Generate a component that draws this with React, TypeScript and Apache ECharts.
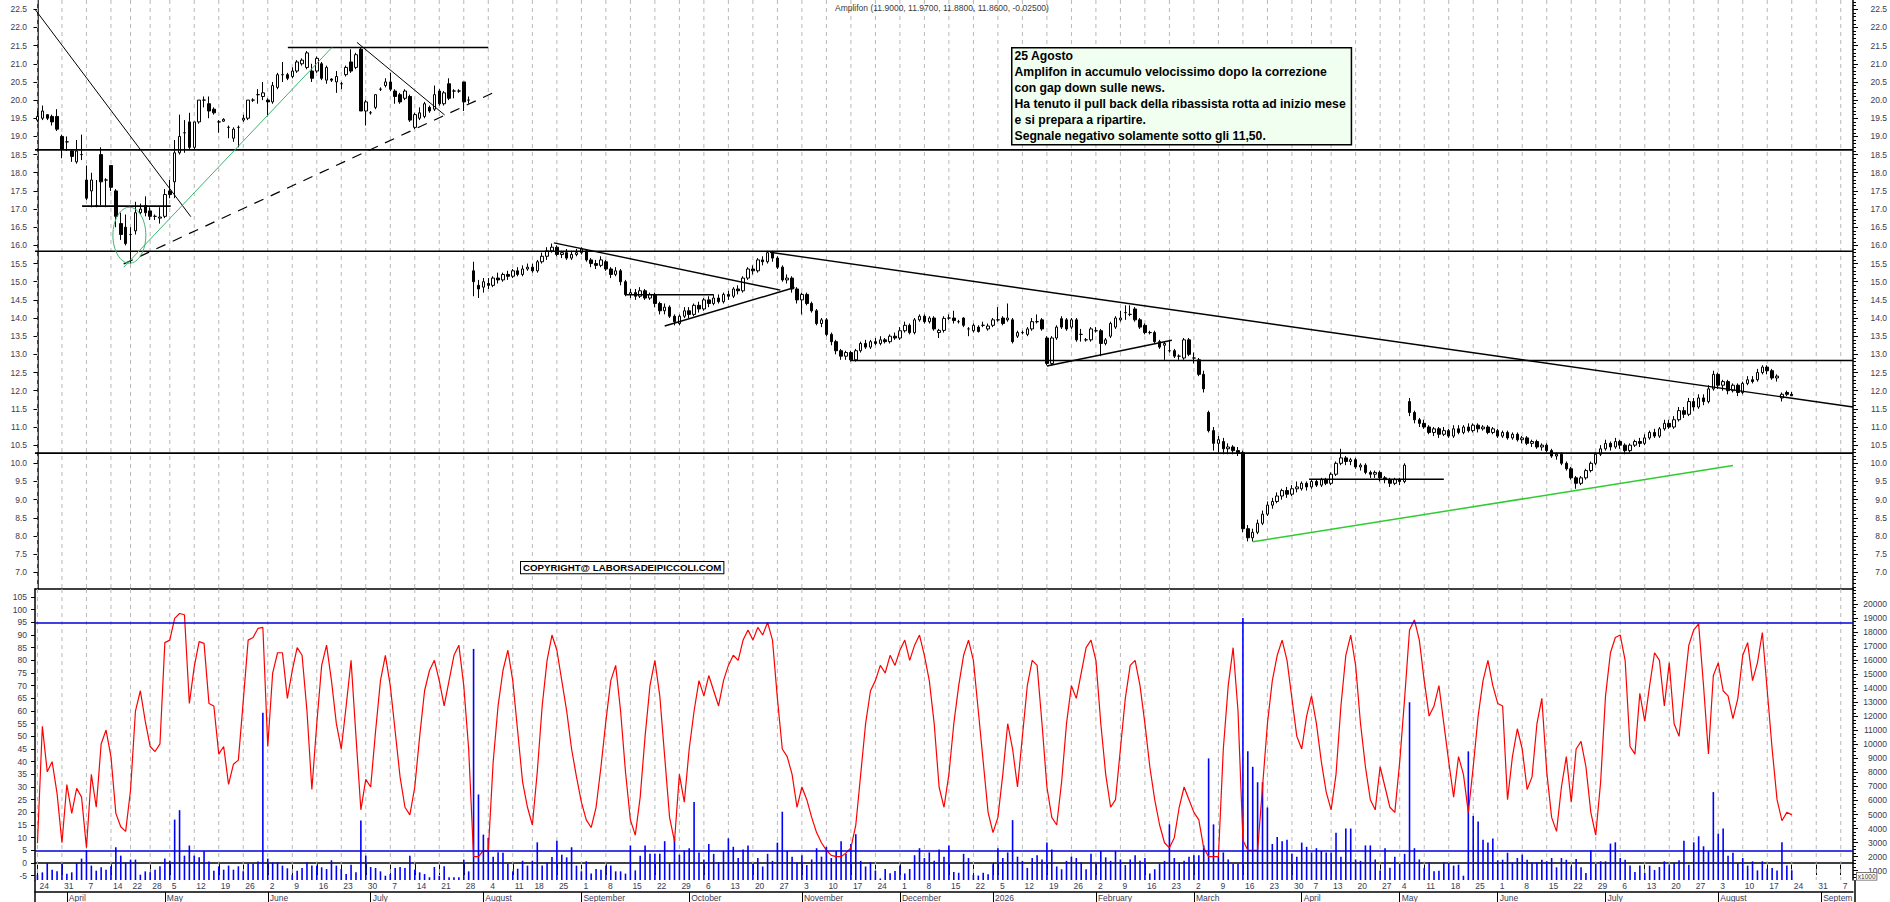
import React, { useEffect, useRef } from "react";
import * as echarts from "echarts";

const FONT = "'Liberation Sans', Arial, Helvetica, sans-serif";
const LABEL_COLOR = "#3a3a56";

// Borsa holidays (no bar on these days)
const HOLIDAYS = [
  "2025-04-18", "2025-04-21", "2025-05-01", "2025-08-15", "2025-12-24", "2025-12-25",
  "2025-12-26", "2025-12-31", "2026-01-01", "2026-04-03", "2026-04-06", "2026-05-01",
];
const SLOT_COUNT = 371; // 2025-03-24 .. 2026-09-09
const MONTHS = ["January", "February", "March", "April", "May", "June", "July", "August", "September", "October", "November", "December"];

const TITLE = "Amplifon (11.9000, 11.9700, 11.8800, 11.8600, -0.02500)";
const NOTE_LINES = [
  "25 Agosto",
  "Amplifon in accumulo velocissimo dopo la correzione",
  "con gap down sulle news.",
  "Ha tenuto il pull back della ribassista rotta ad inizio mese",
  "e si prepara a ripartire.",
  "Segnale negativo solamente sotto gli 11,50.",
];
const COPYRIGHT = "COPYRIGHT@ LABORSADEIPICCOLI.COM";

// tick labels
const priceTicks = [7.0, 7.5, 8.0, 8.5, 9.0, 9.5, 10.0, 10.5, 11.0, 11.5, 12.0, 12.5, 13.0, 13.5, 14.0, 14.5, 15.0, 15.5, 16.0, 16.5, 17.0, 17.5, 18.0, 18.5, 19.0, 19.5, 20.0, 20.5, 21.0, 21.5, 22.0, 22.5];
const oscTicks = [-5, 0, 5, 10, 15, 20, 25, 30, 35, 40, 45, 50, 55, 60, 65, 70, 75, 80, 85, 90, 95, 100, 105];
const volTicks = [1000, 2000, 3000, 4000, 5000, 6000, 7000, 8000, 9000, 10000, 11000, 12000, 13000, 14000, 15000, 16000, 17000, 18000, 19000, 20000];

// daily candles [open, close, low, high]
const ohlc: number[][] = [
  [19.45,19.55,19.40,19.70],[19.50,19.70,19.45,19.85],[19.60,19.50,19.45,19.60],[19.55,19.40,19.30,19.60],[19.55,19.20,19.15,19.75],
  [19.00,18.65,18.40,19.05],[18.85,18.85,18.60,19.00],[18.60,18.45,18.30,18.65],[18.30,18.60,18.25,18.90],[18.50,18.50,18.35,19.05],
  [17.80,17.30,17.25,18.20],[17.50,17.80,17.05,18.00],[17.10,17.10,17.05,17.80],[18.50,17.75,17.10,18.70],[17.80,17.80,17.05,17.85],
  [18.20,17.60,17.50,18.20],[17.50,16.80,16.50,17.55],[16.60,16.30,16.15,16.90],[16.50,16.05,16.00,16.85],[16.30,16.30,15.50,16.50],
  [16.40,16.90,16.30,17.20],[16.90,17.00,16.85,17.15],[17.10,16.90,16.80,17.35],[16.95,16.80,16.70,17.05],[16.80,16.80,16.70,16.85],
  [16.75,16.78,16.60,17.05],[16.80,17.40,16.75,17.55],[17.50,17.40,17.30,17.80],[17.75,18.55,17.30,18.90],[18.55,19.00,18.50,19.60],
  [19.10,19.10,18.55,19.45],[19.40,18.70,18.65,19.65],[18.70,19.40,18.65,19.40],[19.40,20.00,19.35,20.00],[20.00,20.00,19.80,20.10],
  [19.90,19.70,19.50,20.10],[19.75,19.65,19.60,19.80],[19.40,19.40,19.10,19.45],[19.42,19.47,19.40,19.50],[19.25,19.25,18.95,19.30],
  [18.95,19.20,18.85,19.25],[19.25,19.25,18.70,19.30],[19.45,19.50,19.40,19.60],[19.50,20.00,19.45,20.00],[20.00,20.00,19.95,20.05],
  [20.15,20.15,19.90,20.30],[20.10,20.20,20.00,20.50],[20.00,19.95,19.55,20.05],[19.95,20.40,19.90,20.50],[20.35,20.70,20.30,20.75],
  [20.70,20.70,20.50,21.05],[20.70,20.60,20.55,20.75],[20.65,20.80,20.60,20.90],[20.80,21.05,20.75,21.10],[21.00,21.10,20.95,21.15],
  [20.90,21.30,20.85,21.35],[20.80,20.60,20.50,21.00],[20.80,21.15,20.75,21.20],[21.00,20.60,20.55,21.05],[20.55,20.90,20.45,20.95],
  [20.58,20.55,20.50,20.60],[20.50,20.65,20.20,20.80],[20.45,20.45,20.30,20.50],[20.70,20.90,20.65,20.95],[21.05,20.80,20.75,21.40],
  [20.90,21.25,20.85,21.30],[21.40,19.70,19.70,21.45],[19.70,19.95,19.30,20.00],[19.65,19.65,19.60,19.70],[19.80,20.15,19.75,20.15],
  [20.30,20.30,20.25,20.35],[20.40,20.50,20.35,20.60],[20.50,20.30,20.25,20.75],[20.25,20.10,19.90,20.30],[20.15,19.95,19.90,20.20],
  [20.05,20.25,20.00,20.30],[20.10,19.45,19.40,20.15],[19.25,19.60,19.20,19.65],[19.50,19.65,19.45,19.80],[19.55,19.90,19.50,19.95],
  [19.80,19.70,19.65,19.85],[19.75,20.15,19.70,20.40],[20.25,19.90,19.85,20.30],[19.90,20.20,19.85,20.25],[20.45,20.05,20.00,20.60],
  [20.25,20.25,20.05,20.30],[20.25,20.25,20.20,20.30],[20.50,19.95,19.70,20.50],[20.00,20.00,19.90,20.10],[15.30,15.00,14.60,15.55],
  [14.90,14.80,14.55,15.05],[14.85,15.00,14.70,15.10],[14.95,14.90,14.80,15.10],[14.90,15.10,14.85,15.15],[15.10,15.05,14.95,15.25],
  [15.05,15.20,15.00,15.25],[15.20,15.15,15.05,15.30],[15.15,15.30,15.10,15.35],[15.30,15.20,15.15,15.40],[15.20,15.35,15.15,15.45],
  [15.35,15.40,15.30,15.50],[15.40,15.30,15.25,15.50],[15.30,15.55,15.25,15.60],[15.55,15.70,15.50,15.80],[15.70,15.85,15.60,15.95],
  [15.85,15.95,15.80,16.05],[15.95,15.75,15.70,16.00],[15.75,15.80,15.65,15.85],[15.80,15.65,15.60,15.90],[15.65,15.75,15.60,15.85],
  [15.75,15.80,15.70,15.90],[15.80,15.90,15.75,15.95],[15.85,15.60,15.55,15.90],[15.60,15.50,15.40,15.65],[15.50,15.45,15.35,15.60],
  [15.45,15.60,15.40,15.70],[15.55,15.35,15.30,15.60],[15.35,15.20,15.10,15.40],[15.20,15.30,15.15,15.40],[15.30,15.00,14.90,15.35],
  [15.00,14.65,14.60,15.05],[14.65,14.70,14.55,14.80],[14.70,14.60,14.50,14.80],[14.60,14.75,14.55,14.85],[14.75,14.55,14.50,14.80],
  [14.55,14.65,14.50,14.70],[14.65,14.40,14.30,14.70],[14.40,14.20,14.10,14.45],[14.20,14.30,14.10,14.40],[14.30,14.05,14.00,14.35],
  [14.05,13.90,13.80,14.10],[13.85,14.05,13.80,14.10],[14.05,14.20,14.00,14.30],[14.20,14.10,14.00,14.30],[14.10,14.35,14.05,14.40],
  [14.35,14.25,14.15,14.45],[14.25,14.50,14.20,14.55],[14.50,14.40,14.30,14.60],[14.40,14.55,14.35,14.65],[14.55,14.45,14.40,14.65],
  [14.45,14.65,14.40,14.70],[14.65,14.60,14.50,14.75],[14.60,14.80,14.55,14.85],[14.80,14.75,14.65,14.90],[14.75,15.10,14.70,15.15],
  [15.10,15.35,15.05,15.40],[15.35,15.30,15.20,15.45],[15.30,15.60,15.25,15.65],[15.60,15.55,15.45,15.70],[15.55,15.80,15.50,15.85],
  [15.80,15.65,15.55,15.85],[15.65,15.40,15.35,15.70],[15.40,15.05,15.00,15.45],[15.05,15.10,14.95,15.20],[15.10,14.80,14.70,15.15],
  [14.80,14.50,14.40,14.85],[14.50,14.65,14.10,14.70],[14.65,14.40,14.35,14.70],[14.40,14.20,14.15,14.45],[14.20,13.85,13.80,14.25],
  [13.85,13.95,13.75,14.00],[13.95,13.55,13.50,14.00],[13.55,13.35,13.25,13.60],[13.35,13.10,13.00,13.40],[13.10,12.95,12.85,13.15],
  [12.95,13.05,12.85,13.10],[13.05,12.85,12.80,13.10],[12.85,13.10,12.80,13.15],[13.10,13.30,13.05,13.35],[13.30,13.20,13.15,13.40],
  [13.20,13.35,13.15,13.40],[13.35,13.30,13.25,13.45],[13.30,13.40,13.25,13.50],[13.40,13.35,13.30,13.45],[13.35,13.50,13.30,13.55],
  [13.50,13.45,13.40,13.60],[13.45,13.65,13.40,13.75],[13.65,13.80,13.60,13.90],[13.80,13.60,13.55,13.85],[13.60,13.95,13.55,14.00],
  [13.95,14.05,13.90,14.10],[14.05,13.90,13.85,14.10],[13.90,14.00,13.85,14.05],[14.00,13.70,13.65,14.05],[13.60,13.66,13.45,13.70],
  [13.66,13.99,13.60,14.05],[14.00,14.00,13.95,14.10],[14.00,13.93,13.85,14.20],[13.90,13.90,13.85,13.95],[14.00,13.80,13.75,14.02],
  [13.70,13.70,13.50,13.75],[13.65,13.80,13.60,13.85],[13.75,13.63,13.60,13.80],[13.80,13.80,13.75,13.90],[13.70,13.78,13.65,13.85],
  [13.80,13.95,13.75,14.00],[13.95,13.95,13.90,14.30],[14.00,13.85,13.80,14.05],[13.95,14.00,13.90,14.40],[13.95,13.35,13.30,14.00],
  [13.50,13.60,13.45,13.65],[13.60,13.60,13.55,13.65],[13.55,13.70,13.50,13.75],[13.70,13.90,13.65,14.00],[13.90,13.90,13.85,14.10],
  [13.95,13.70,13.65,14.00],[13.45,12.75,12.70,13.50],[12.75,13.45,12.70,13.50],[13.45,13.75,13.40,13.80],[13.98,13.75,13.70,14.05],
  [13.95,13.70,13.65,14.00],[13.75,13.95,13.70,14.00],[13.95,13.40,13.35,14.00],[13.55,13.55,13.35,13.70],[13.40,13.40,13.35,13.45],
  [13.40,13.70,13.35,13.75],[13.65,13.65,13.60,13.75],[13.65,13.30,12.95,13.70],[13.30,13.40,13.25,13.45],[13.50,13.85,13.45,13.90],
  [13.75,14.00,13.70,14.05],[13.95,14.00,13.90,14.20],[14.15,14.15,13.95,14.35],[14.10,14.10,14.05,14.35],[14.25,13.95,13.90,14.30],
  [13.95,13.75,13.70,14.00],[13.80,13.60,13.55,13.85],[13.60,13.60,13.55,13.65],[13.60,13.35,13.30,13.65],[13.35,13.20,13.15,13.40],
  [13.25,13.30,12.85,13.35],[13.10,13.10,13.05,13.40],[13.10,12.95,12.90,13.15],[12.95,12.95,12.85,13.00],[12.90,13.40,12.85,13.45],
  [13.40,13.00,12.95,13.45],[12.90,12.90,12.75,13.05],[12.85,12.45,12.40,12.90],[12.45,12.05,11.95,12.55],[11.40,10.90,10.85,11.45],
  [10.90,10.55,10.35,11.00],[10.55,10.65,10.30,10.75],[10.60,10.40,10.25,10.70],[10.40,10.45,10.25,10.55],[10.45,10.35,10.25,10.50],
  [10.35,10.30,10.20,10.45],[10.30,8.20,8.10,10.35],[8.20,7.95,7.85,8.30],[7.95,8.10,7.85,8.20],[8.10,8.35,8.05,8.45],
  [8.35,8.60,8.30,8.70],[8.60,8.85,8.55,8.95],[8.85,8.95,8.75,9.05],[8.95,9.10,8.90,9.20],[9.10,9.25,9.00,9.30],
  [9.25,9.15,9.05,9.35],[9.15,9.30,9.10,9.40],[9.30,9.35,9.20,9.50],[9.30,9.45,9.25,9.50],[9.45,9.35,9.25,9.50],
  [9.35,9.50,9.30,9.55],[9.50,9.40,9.35,9.55],[9.40,9.55,9.35,9.60],[9.55,9.45,9.40,9.60],[9.45,9.70,9.40,9.75],
  [9.70,10.00,9.65,10.05],[10.00,10.15,9.95,10.40],[10.15,10.05,9.95,10.20],[10.05,10.10,9.95,10.15],[10.10,9.90,9.85,10.15],
  [9.90,9.95,9.80,10.00],[9.95,9.75,9.70,10.00],[9.75,9.70,9.60,9.80],[9.70,9.75,9.60,9.80],[9.75,9.60,9.50,9.80],
  [9.60,9.55,9.45,9.65],[9.55,9.45,9.35,9.60],[9.45,9.55,9.40,9.60],[9.55,9.50,9.40,9.60],[9.50,9.95,9.45,10.00],
  [11.70,11.40,11.30,11.80],[11.40,11.20,11.10,11.45],[11.20,11.10,11.00,11.25],[11.10,11.00,10.95,11.20],[11.00,10.85,10.80,11.05],
  [10.85,10.95,10.75,11.00],[10.95,10.80,10.70,11.00],[10.80,10.90,10.75,11.00],[10.90,10.75,10.70,10.95],[10.75,10.95,10.70,11.05],
  [10.95,10.85,10.80,11.05],[10.85,11.00,10.80,11.05],[11.00,10.90,10.85,11.10],[10.90,11.05,10.85,11.10],[11.05,10.95,10.85,11.10],
  [10.95,11.00,10.90,11.05],[11.00,10.85,10.80,11.05],[10.85,10.95,10.80,11.00],
  [10.90,10.75,10.70,10.95],[10.75,10.85,10.70,10.90],[10.85,10.70,10.65,10.90],[10.70,10.80,10.65,10.85],[10.80,10.65,10.60,10.85],
  [10.65,10.70,10.55,10.75],[10.70,10.55,10.50,10.75],[10.55,10.60,10.45,10.65],[10.60,10.45,10.40,10.65],[10.45,10.50,10.35,10.55],
  [10.50,10.35,10.30,10.55],[10.35,10.20,10.15,10.40],[10.20,10.25,10.10,10.30],[10.25,10.00,9.95,10.30],[10.00,9.85,9.80,10.05],
  [9.85,9.60,9.55,9.90],[9.60,9.45,9.30,9.65],[9.45,9.60,9.40,9.65],[9.60,9.80,9.55,9.85],[9.80,10.00,9.75,10.05],
  [10.00,10.25,9.95,10.30],[10.25,10.40,10.20,10.50],
  [10.40,10.55,10.35,10.65],[10.55,10.45,10.35,10.60],[10.45,10.60,10.40,10.70],[10.60,10.50,10.40,10.65],[10.50,10.35,10.25,10.55],
  [10.35,10.50,10.30,10.55],[10.50,10.60,10.45,10.65],[10.60,10.55,10.45,10.70],[10.55,10.70,10.50,10.80],[10.70,10.85,10.65,10.90],
  [10.85,10.75,10.70,10.95],[10.75,10.95,10.70,11.00],[10.95,11.10,10.90,11.20],[11.10,11.00,10.95,11.20],[11.00,11.20,10.95,11.30],
  [11.20,11.45,11.15,11.55],[11.45,11.35,11.25,11.55],[11.35,11.70,11.30,11.80],[11.70,11.55,11.45,11.80],[11.55,11.80,11.50,11.90],
  [11.80,11.70,11.60,11.90],[11.70,12.05,11.65,12.15],[12.05,12.45,12.00,12.55],
  [12.45,12.15,12.05,12.50],[12.15,12.25,12.00,12.30],[12.25,12.00,11.90,12.30],[12.00,12.15,11.95,12.20],[12.15,11.95,11.85,12.20],
  [11.95,12.20,11.90,12.25],[12.20,12.30,12.15,12.40],[12.30,12.25,12.20,12.40],[12.30,12.50,12.25,12.60],[12.50,12.65,12.45,12.70],
  [12.65,12.55,12.45,12.70],[12.55,12.35,12.30,12.60],[12.35,12.40,12.25,12.45],[11.80,11.90,11.70,11.95],[11.95,11.90,11.85,12.00],
  [11.90,11.86,11.86,11.97],
];

// oscillator (left scale of lower panel)
const oscillator: number[] = [
  7.8, 54, 36, 40, 27.5, 8, 31, 19.6, 29.5, 26,
  6, 35, 22, 47, 52.5, 42, 19.6, 14.3, 12.5, 28.8,
  60, 68, 56, 46, 44, 47, 87, 88, 96.6, 98.5,
  98, 63, 77.5, 87.4, 86.7, 63, 62, 43, 46, 31,
  39, 40.6, 64, 88, 89, 92.6, 93, 46, 75, 83,
  83, 65, 76, 85, 82, 60, 29, 55, 78, 86,
  72, 55, 45, 62, 80, 50, 21, 33, 30, 52,
  72, 82, 70, 52, 34, 22, 19, 30, 50, 68,
  76, 80, 72, 62, 72, 82, 86, 70, 45, 2.5,
  2.5, 5, 4.5, 40, 62, 76, 84, 72, 52, 32,
  22, 15, 36, 62, 80, 90, 84, 72, 60, 45,
  34, 24, 17, 14, 22, 38, 56, 72, 78, 60,
  36, 17, 11, 26, 50, 70, 80, 66, 42, 18,
  8.5, 35, 24, 45, 60, 72, 66, 74, 68, 62,
  72, 78, 82, 80, 88, 92, 88, 93, 90, 95,
  88, 65, 45, 42, 35, 22, 30, 25, 18, 12,
  8, 5, 3, 2.5, 2.5, 4, 6, 15, 35, 55,
  68, 72, 78, 75, 82, 78, 84, 88, 80, 86,
  90, 82, 72, 55, 30, 22, 35, 55, 70, 82,
  88, 80, 60, 40, 20, 12, 18, 35, 55, 45,
  30, 50, 70, 80, 78, 55, 30, 18, 15, 32,
  55, 70, 65, 75, 85, 88, 80, 55, 35, 22,
  25, 45, 65, 78, 80, 70, 55, 38, 25, 15,
  8, 6, 10, 22, 30, 25, 20, 17, 6, 2.5,
  2.5, 2.5, 45, 70, 85, 60, 9, 5, 5, 5,
  30, 55, 72, 82, 88, 80, 65, 50, 45, 58,
  66, 55, 40, 28, 21, 35, 62, 82, 90, 78,
  55, 38, 25, 21, 38, 30, 22, 20, 40, 65,
  92, 96, 88, 72, 58, 62, 70, 55, 40, 26,
  42, 35, 20, 38, 58, 72, 80, 70, 63, 62,
  25, 42, 53, 45, 29, 34, 55, 65, 36, 18,
  12.5, 30, 42, 24, 45, 48, 38, 20, 11, 32,
  66, 83, 89, 90, 80, 46, 43, 67, 56, 70,
  83, 80, 62, 79, 55, 50, 68, 86, 92, 94.4,
  70, 43, 74, 79, 68, 66, 57, 65, 82, 87,
  72, 79, 91, 68, 45, 25, 16.7, 20, 19,
];

// volume (right scale of lower panel)
const volume: number[] = [
  714, 880, 1550, 1070, 950, 1500, 785, 880, 1550, 1860,
  2450, 1360, 1000, 1240, 1070, 1310, 2670, 2070, 1600, 1790,
  1790, 714, 950, 880, 1070, 1310, 1860, 1710, 4640, 5310,
  2070, 2790, 2070, 1950, 2380, 1660, 1000, 1310, 1070, 1360,
  1070, 1310, 950, 1500, 1500, 1660, 12260, 1860, 1600, 1600,
  1360, 1170, 714, 1000, 1190, 1600, 1360, 1360, 1240, 1120,
  1740, 1360, 1120, 760, 1430, 880, 4570, 2070, 1260, 1190,
  950, 640, 760, 1190, 1260, 1190, 2070, 1070, 880, 760,
  530, 1260, 640, 1310, 530, 530, 530, 1790, 950, 16800,
  6430, 3570, 3330, 2000, 2310, 2280, 1500, 950, 1140, 1710,
  1360, 1710, 3020, 1360, 1600, 1980, 3140, 2140, 1950, 2670,
  1360, 950, 1670, 790, 1120, 1070, 1360, 1360, 950, 950,
  790, 2790, 1020, 2070, 2790, 2210, 2210, 2210, 3100, 1550,
  3260, 2140, 2430, 2600, 5900, 2300, 1800, 2900, 2200, 1600,
  2400, 3300, 2700, 1900, 2500, 2800, 1500, 1900, 1300, 2200,
  1700, 3000, 5200, 2400, 2000, 1600, 2100, 1400, 1800, 2600,
  2000, 2700, 1900, 2400, 3100, 2200, 2900, 3600, 1700, 1300,
  1600, 1000, 450, 1120, 810, 980, 1360, 800, 1120, 2100,
  2600, 1900, 2300, 1700, 2500, 2000, 2800, 900, 850, 2200,
  1900, 700, 650, 850, 750, 1450, 2600, 1900, 2300, 4600,
  2000, 1700, 1200, 1900, 2100, 1800, 3000, 2500, 1300, 1100,
  1700, 2000, 1900, 1600, 1100, 2200, 1600, 2400, 1950, 1700,
  2400, 1800, 1400, 1800, 2100, 1700, 1900, 800, 1100, 1500,
  1700, 4300, 1900, 1600, 1700, 2000, 2100, 2100, 2800, 9000,
  4300, 2000, 2300, 1800, 1500, 1500, 19000, 9500, 8400, 7300,
  7300, 5500, 2900, 3400, 3100, 3200, 2200, 2000, 3000, 2700,
  2300, 2600, 2400, 2300, 2300, 3700, 2000, 4000, 4000, 1800,
  1700, 2800, 2800, 1800, 1000, 2600, 1200, 2000, 1500, 2200,
  13000, 2600, 1800, 1200, 1600, 950, 1000, 1600, 1550, 1360,
  1430, 640, 9500, 4900, 4500, 3200, 3000, 3300, 1740, 1780,
  2280, 1600, 1900, 2140, 1780, 1600, 1600, 1780, 1670, 1900,
  1240, 1900, 1780, 1300, 1830, 1240, 830, 2450, 1480, 1670,
  1670, 2930, 3020, 1900, 1780, 1360, 900, 1360, 830, 1360,
  1050, 1260, 1670, 1430, 1550, 1740, 3140, 1430, 3020, 3450,
  2740, 2380, 6600, 3640, 4000, 2070, 2280, 1550, 1900, 1360,
  1670, 1020, 1670, 1140, 1190, 1020, 3020, 1360, 1020,
];

// hand-drawn trend lines [x1 (bar index), price1, x2, price2]
const supportLines = [
  [9.1, 17.08, 27.2, 17.08],
  [51.1, 21.45, 92.0, 21.45],
  [-0.5, 18.63, 370.5, 18.63],
  [-0.5, 15.84, 370.5, 15.84],
  [-0.5, 10.28, 370.5, 10.28],
  [166, 12.83, 370.5, 12.83],
  [259.5, 9.56, 287, 9.56],
  [120, 14.64, 138, 14.64],
];
const trendLines = [
  [149.5, 15.81, 370.5, 11.55],
  [105.4, 16.07, 151.6, 14.77],
  [128, 13.78, 154.5, 14.84],
  [206, 12.68, 231.5, 13.39],
];
const thinLines = [
  [-0.5, 22.5, 31.3, 16.79],
  [65.2, 21.59, 83.1, 19.59],
];
const dashedLines = [[17.6, 15.49, 94.1, 20.27]];
const greenLines = [[17.6, 15.40, 60.1, 21.45]];
const brightGreenLines = [[248, 7.84, 346, 9.94]];
const ellipseMark = [[18.76, 16.28, 3.36, 0.77]];

function buildDates(): string[] {
  const out: string[] = [];
  const d = new Date(Date.UTC(2025, 2, 24));
  while (out.length < SLOT_COUNT) {
    const wd = d.getUTCDay();
    const s = d.toISOString().slice(0, 10);
    if (wd !== 0 && wd !== 6 && HOLIDAYS.indexOf(s) < 0) out.push(s);
    d.setUTCDate(d.getUTCDate() + 1);
  }
  return out;
}

function mondayKey(s: string): number {
  const d = new Date(s + "T00:00:00Z");
  const wd = (d.getUTCDay() + 6) % 7;
  return Math.round(d.getTime() / 86400000) - wd;
}

export default function App() {
  const ref = useRef<HTMLDivElement | null>(null);

  useEffect(() => {
    document.body.style.margin = "0";
    if (!ref.current) return;
    const chart = echarts.init(ref.current, undefined, { renderer: "svg" });

    const dates = buildDates();
    const weekStarts: number[] = [];
    const monthStarts: number[] = [];
    for (let i = 0; i < dates.length; i++) {
      if (i === 0 || mondayKey(dates[i]) !== mondayKey(dates[i - 1])) {
        if (dates[i] !== "2025-12-29") weekStarts.push(i);
      }
      if (i > 0 && dates[i].slice(5, 7) !== dates[i - 1].slice(5, 7)) monthStarts.push(i);
    }
    const weekSet = new Set(weekStarts);
    const weekTickSet = new Set(weekStarts);
    weekTickSet.add(dates.indexOf("2026-01-02"));
    const monthSet = new Set(monthStarts);

    const priceMin = 6.54, priceMax = 22.756;
    const oscMin = -6.71, oscMax = 108.17;
    const volMin = 335, volMax = 21068;

    const minorPrice: number[] = [];
    for (let k = 66; k <= 227; k++) minorPrice.push(k / 10);
    const minorVol: number[] = [];
    for (let v = 500; v <= 21000; v += 250) minorVol.push(v);

    const gridRender = (params: any, api: any) => {
      const x = api.coord([api.value(0), api.value(1)])[0];
      const cs = params.coordSys;
      return {
        type: "line",
        shape: { x1: x, y1: cs.y, x2: x, y2: cs.y + cs.height },
        style: { stroke: "#b8b8b8", lineWidth: 1, lineDash: [4, 4] },
      };
    };
    const segRender = (stroke: string, lineWidth: number, dash?: number[]) => (params: any, api: any) => {
      const a = api.coord([api.value(0), api.value(1)]);
      const b = api.coord([api.value(2), api.value(3)]);
      return {
        type: "line",
        shape: { x1: a[0], y1: a[1], x2: b[0], y2: b[1] },
        style: { stroke, lineWidth, lineDash: dash || null },
      };
    };
    const segSeries = (data: number[][], stroke: string, lw: number, dash?: number[]) => ({
      type: "custom",
      xAxisIndex: 1,
      yAxisIndex: 0,
      z: 4,
      silent: true,
      data,
      renderItem: segRender(stroke, lw, dash),
    });

    const axisLabelStyle = { fontSize: 8.5, color: LABEL_COLOR, fontFamily: FONT };

    const option: any = {
      animation: false,
      backgroundColor: "#ffffff",
      title: {
        text: TITLE,
        left: 835,
        top: 3,
        padding: 0,
        textStyle: { fontSize: 8.5, fontWeight: "normal", color: "#3a3a3a", fontFamily: FONT },
      },
      grid: [
        { left: 35, width: 1820, top: 0, height: 589 },
        { left: 35, width: 1820, top: 589, height: 291 },
      ],
      xAxis: [
        {
          type: "category", gridIndex: 0, data: dates, boundaryGap: true,
          axisLine: { show: true, lineStyle: { color: "#000", width: 1.5 } },
          axisTick: { show: false }, axisLabel: { show: false }, splitLine: { show: false },
        },
        { type: "value", gridIndex: 0, min: -0.5, max: 370.5, show: false },
        {
          type: "category", gridIndex: 1, data: dates, boundaryGap: true, position: "bottom",
          axisLine: { show: true, lineStyle: { color: "#000", width: 1.5 } },
          axisTick: {
            show: true, alignWithLabel: true, length: 12,
            interval: (idx: number) => weekTickSet.has(idx),
            lineStyle: { color: "#000", width: 1 },
          },
          axisLabel: {
            ...axisLabelStyle,
            interval: (idx: number) => weekSet.has(idx),
            formatter: (v: string) => String(Number(v.slice(8, 10))),
            align: "left", verticalAlign: "top", margin: 1, padding: [0, 0, 0, 2],
          },
          splitLine: { show: false },
        },
        {
          type: "category", gridIndex: 1, data: dates, boundaryGap: true, position: "bottom", offset: 12,
          axisLine: { show: true, lineStyle: { color: "#000", width: 1.5 } },
          axisTick: {
            show: true, alignWithLabel: true, length: 10,
            interval: (idx: number) => monthSet.has(idx),
            lineStyle: { color: "#000", width: 1 },
          },
          axisLabel: {
            ...axisLabelStyle,
            interval: (idx: number) => monthSet.has(idx),
            formatter: (v: string) => {
              const m = Number(v.slice(5, 7)) - 1;
              if (m === 0) return v.slice(0, 4);
              if (v.slice(0, 7) === "2026-09") return "Septem";
              return MONTHS[m];
            },
            align: "left", verticalAlign: "top", margin: 1, padding: [0, 0, 0, 2],
          },
          splitLine: { show: false },
        },
      ],
      yAxis: [
        {
          type: "value", gridIndex: 0, position: "left", min: priceMin, max: priceMax,
          axisLine: { show: true, lineStyle: { color: "#000", width: 1.5 } },
          axisTick: { show: true, customValues: priceTicks, length: 4, lineStyle: { color: "#000" } },
          axisLabel: { ...axisLabelStyle, customValues: priceTicks, formatter: (v: number) => v.toFixed(1), margin: 8 },
          splitLine: { show: false },
        },
        {
          type: "value", gridIndex: 0, position: "right", min: priceMin, max: priceMax,
          axisLine: { show: true, lineStyle: { color: "#000", width: 1.5 } },
          axisTick: { show: true, customValues: priceTicks, length: 5, lineStyle: { color: "#000" } },
          axisLabel: { ...axisLabelStyle, customValues: priceTicks, formatter: (v: number) => v.toFixed(1), margin: 34, align: "right" },
          splitLine: { show: false },
        },
        {
          type: "value", gridIndex: 0, position: "right", min: priceMin, max: priceMax,
          axisLine: { show: false },
          axisTick: { show: true, customValues: minorPrice, length: 3, lineStyle: { color: "#000" } },
          axisLabel: { show: false }, splitLine: { show: false },
        },
        {
          type: "value", gridIndex: 1, position: "left", min: oscMin, max: oscMax,
          axisLine: { show: true, lineStyle: { color: "#000", width: 1.5 } },
          axisTick: { show: true, customValues: oscTicks, length: 4, lineStyle: { color: "#000" } },
          axisLabel: { ...axisLabelStyle, customValues: oscTicks, formatter: (v: number) => String(v), margin: 8 },
          splitLine: { show: false },
        },
        {
          type: "value", gridIndex: 1, position: "right", min: volMin, max: volMax,
          axisLine: { show: true, lineStyle: { color: "#000", width: 1.5 } },
          axisTick: { show: true, customValues: volTicks, length: 5, lineStyle: { color: "#000" } },
          axisLabel: { ...axisLabelStyle, customValues: volTicks, formatter: (v: number) => String(v), margin: 34, align: "right" },
          splitLine: { show: false },
        },
        {
          type: "value", gridIndex: 1, position: "right", min: volMin, max: volMax,
          axisLine: { show: false },
          axisTick: { show: true, customValues: minorVol, length: 3, lineStyle: { color: "#000" } },
          axisLabel: { show: false }, splitLine: { show: false },
        },
      ],
      series: [
        {
          type: "custom", xAxisIndex: 0, yAxisIndex: 0, z: 1, silent: true,
          data: weekStarts.map((i) => [i, 10]), renderItem: gridRender,
        },
        {
          type: "candlestick", xAxisIndex: 0, yAxisIndex: 0, z: 3, barWidth: 3,
          data: ohlc,
          itemStyle: { color: "#ffffff", color0: "#000000", borderColor: "#000000", borderColor0: "#000000", borderColorDoji: "#000000", borderWidth: 1 },
        },
        segSeries(supportLines, "#000000", 1.6),
        segSeries(trendLines, "#000000", 1.4),
        segSeries(thinLines, "#000000", 1),
        segSeries(dashedLines, "#000000", 1.2, [10, 8]),
        segSeries(greenLines, "#3cb371", 1),
        segSeries(brightGreenLines, "#2ecc2e", 1.5),
        {
          type: "custom", xAxisIndex: 1, yAxisIndex: 0, z: 4, silent: true,
          data: ellipseMark,
          renderItem: (params: any, api: any) => {
            const c = api.coord([api.value(0), api.value(1)]);
            const s = api.size([api.value(2), api.value(3)]);
            return {
              type: "ellipse",
              shape: { cx: c[0], cy: c[1], rx: s[0], ry: s[1] },
              style: { fill: "none", stroke: "#3cb371", lineWidth: 1 },
            };
          },
        },
        {
          type: "custom", xAxisIndex: 2, yAxisIndex: 3, z: 1, silent: true,
          data: weekStarts.map((i) => [i, 50]), renderItem: gridRender,
        },
        {
          type: "bar", xAxisIndex: 2, yAxisIndex: 4, z: 2, barWidth: 1.6,
          data: volume, itemStyle: { color: "#0000ff" }, clip: true,
        },
        {
          type: "line", xAxisIndex: 2, yAxisIndex: 3, z: 3,
          data: oscillator, symbol: "none", showSymbol: false,
          lineStyle: { color: "#ff0000", width: 1.2 },
          markLine: {
            silent: true, symbol: "none", label: { show: false },
            lineStyle: { color: "#0000dd", width: 1.5, type: "solid" },
            data: [{ yAxis: 95 }, { yAxis: 5 }],
          },
        },
      ],
      graphic: [
        {
          type: "text", left: 1011, top: 47, z: 100,
          style: {
            text: NOTE_LINES.join("\n"), fontSize: 12.2, fontWeight: "bold", fontFamily: FONT,
            lineHeight: 15.9, fill: "#000", backgroundColor: "#f0fff0",
            borderColor: "#000", borderWidth: 1.5, padding: [0, 5, 0, 2],
          },
        },
        {
          type: "text", left: 520, top: 561, z: 100,
          style: {
            text: COPYRIGHT, fontSize: 9.7, fontWeight: "bold", fontFamily: FONT,
            lineHeight: 11.3, fill: "#000", backgroundColor: "#ffffff",
            borderColor: "#000", borderWidth: 1, padding: [0, 2, 0, 2],
          },
        },
        {
          type: "text", left: 1856, top: 872, z: 100,
          style: {
            text: "x1000", fontSize: 6.5, fontFamily: FONT, lineHeight: 7, fill: "#333",
            borderColor: "#555", borderWidth: 0.8, padding: [0, 1, 0, 1], backgroundColor: "#fff",
          },
        },
        { type: "line", shape: { x1: 35, y1: 880, x2: 35, y2: 902 }, style: { stroke: "#000", lineWidth: 1.5 } },
        { type: "line", shape: { x1: 1855, y1: 880, x2: 1855, y2: 902 }, style: { stroke: "#000", lineWidth: 1.5 } },
      ],
    };

    chart.setOption(option);
    return () => chart.dispose();
  }, []);

  return <div ref={ref} style={{ width: 1890, height: 902 }} />;
}
